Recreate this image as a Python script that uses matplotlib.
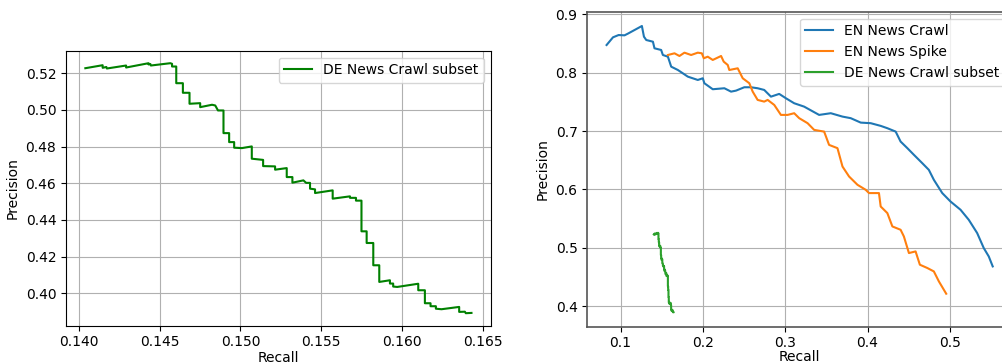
import matplotlib.pyplot as plt

# DE News Crawl subset (same curve in both panels)
de_recall = [0.14041, 0.14148, 0.14148, 0.14171, 0.14174, 0.14293, 0.14293, 0.14432, 0.14432,
             0.14443, 0.14446, 0.14566, 0.14577, 0.14577, 0.14603, 0.14603, 0.14644, 0.14644,
             0.14685, 0.14685, 0.14751, 0.14751, 0.14824, 0.14844, 0.14861, 0.14895, 0.14895,
             0.14930, 0.14930, 0.14961, 0.14961, 0.15009, 0.15070, 0.15070, 0.15140, 0.15140,
             0.15214, 0.15214, 0.15286, 0.15286, 0.15321, 0.15321, 0.15389, 0.15406, 0.15430,
             0.15430, 0.15461, 0.15461, 0.15570, 0.15570, 0.15677, 0.15677, 0.15714, 0.15714,
             0.15748, 0.15748, 0.15780, 0.15780, 0.15821, 0.15821, 0.15858, 0.15858, 0.15924,
             0.15924, 0.15944, 0.15944, 0.15969, 0.16099, 0.16099, 0.16140, 0.16140, 0.16175,
             0.16175, 0.16208, 0.16208, 0.16243, 0.16352, 0.16352, 0.16387, 0.16393, 0.16428]
de_precision = [0.52272, 0.52436, 0.52294, 0.52338, 0.52256, 0.52419, 0.52310, 0.52545, 0.52474,
                0.52501, 0.52419, 0.52545, 0.52512, 0.52365, 0.52365, 0.51455, 0.51455, 0.50932,
                0.50932, 0.50333, 0.50366, 0.50148, 0.50279, 0.50241, 0.49968, 0.49968, 0.48732,
                0.48732, 0.48242, 0.48242, 0.47937, 0.47915, 0.48007, 0.47337, 0.47272, 0.46934,
                0.46918, 0.46738, 0.46825, 0.46335, 0.46335, 0.46030, 0.46155, 0.46019, 0.46019,
                0.45703, 0.45665, 0.45464, 0.45611, 0.45158, 0.45284, 0.45202, 0.45202, 0.45050,
                0.45050, 0.43377, 0.43377, 0.42740, 0.42740, 0.41525, 0.41525, 0.40616, 0.40708,
                0.40529, 0.40529, 0.40365, 0.40343, 0.40518, 0.40163, 0.40163, 0.39455, 0.39455,
                0.39292, 0.39292, 0.39156, 0.39128, 0.39254, 0.38982, 0.38993, 0.38911, 0.38927]

# EN News Crawl
en_recall = [0.0830, 0.0908, 0.0976, 0.1048, 0.1090, 0.1259, 0.1284, 0.1312, 0.1393, 0.1412,
             0.1493, 0.1514, 0.1575, 0.1615, 0.1696, 0.1817, 0.1938, 0.1999, 0.2018, 0.2120,
             0.2261, 0.2342, 0.2402, 0.2503, 0.2584, 0.2665, 0.2745, 0.2827, 0.2927, 0.3008,
             0.3109, 0.3230, 0.3412, 0.3554, 0.3696, 0.3796, 0.3918, 0.4039, 0.4160, 0.4241,
             0.4342, 0.4402, 0.4484, 0.4564, 0.4665, 0.4745, 0.4806, 0.4908, 0.5008, 0.5130,
             0.5230, 0.5332, 0.5412, 0.5473, 0.5521]
en_precision = [0.8474, 0.8606, 0.8645, 0.8640, 0.8670, 0.8800, 0.8617, 0.8560, 0.8531, 0.8418,
                0.8389, 0.8303, 0.8274, 0.8103, 0.8046, 0.7932, 0.7875, 0.7904, 0.7819, 0.7716,
                0.7733, 0.7675, 0.7692, 0.7750, 0.7750, 0.7733, 0.7704, 0.7589, 0.7636, 0.7562,
                0.7476, 0.7418, 0.7276, 0.7305, 0.7247, 0.7220, 0.7144, 0.7134, 0.7088, 0.7048,
                0.6990, 0.6819, 0.6706, 0.6591, 0.6449, 0.6334, 0.6163, 0.5936, 0.5792, 0.5650,
                0.5478, 0.5251, 0.4994, 0.4850, 0.4679]

# EN News Spike
spike_recall = [0.1575, 0.1655, 0.1715, 0.1776, 0.1857, 0.1938, 0.1987, 0.2011, 0.2059, 0.2120,
                0.2221, 0.2253, 0.2302, 0.2321, 0.2423, 0.2484, 0.2564, 0.2605, 0.2665, 0.2745,
                0.2787, 0.2867, 0.2948, 0.3029, 0.3109, 0.3170, 0.3272, 0.3352, 0.3473, 0.3533,
                0.3635, 0.3696, 0.3776, 0.3878, 0.3978, 0.4018, 0.4139, 0.4160, 0.4241, 0.4302,
                0.4402, 0.4442, 0.4503, 0.4584, 0.4636, 0.4726, 0.4806, 0.4867, 0.4956]
spike_precision = [0.8303, 0.8332, 0.8286, 0.8343, 0.8303, 0.8343, 0.8332, 0.8247, 0.8274, 0.8218,
                   0.8286, 0.8189, 0.8132, 0.8046, 0.8075, 0.7904, 0.7819, 0.7675, 0.7533, 0.7504,
                   0.7533, 0.7447, 0.7276, 0.7276, 0.7305, 0.7220, 0.7134, 0.7019, 0.6990, 0.6762,
                   0.6706, 0.6391, 0.6220, 0.6078, 0.5992, 0.5936, 0.5936, 0.5706, 0.5593, 0.5364,
                   0.5307, 0.5192, 0.4908, 0.4936, 0.4708, 0.4652, 0.4593, 0.4422, 0.4211]

fig = plt.figure(figsize=(10.02, 3.64), dpi=100)

# left panel: DE subset only
ax1 = fig.add_axes([0.0659, 0.1052, 0.4239, 0.7555])
ax1.plot(de_recall, de_precision, color='green', label='DE News Crawl subset')
ax1.set_xlabel('Recall', labelpad=1)
ax1.set_ylabel('Precision')
ax1.grid(True)
ax1.legend(loc='upper right')

# right panel: all three curves (runs off the right edge like the original)
ax2 = fig.add_axes([0.5861, 0.1025, 0.4239, 0.8654])
ax2.plot(en_recall, en_precision, label='EN News Crawl')
ax2.plot(spike_recall, spike_precision, label='EN News Spike')
ax2.plot(de_recall, de_precision, label='DE News Crawl subset')
ax2.set_xlabel('Recall', labelpad=0)
ax2.set_ylabel('Precision')
ax2.grid(True)
ax2.legend(loc='upper right')
for s in ax2.spines.values():
    s.set_color('#555555')
    s.set_linewidth(1.2)

fig.savefig('out.png', dpi=100)
